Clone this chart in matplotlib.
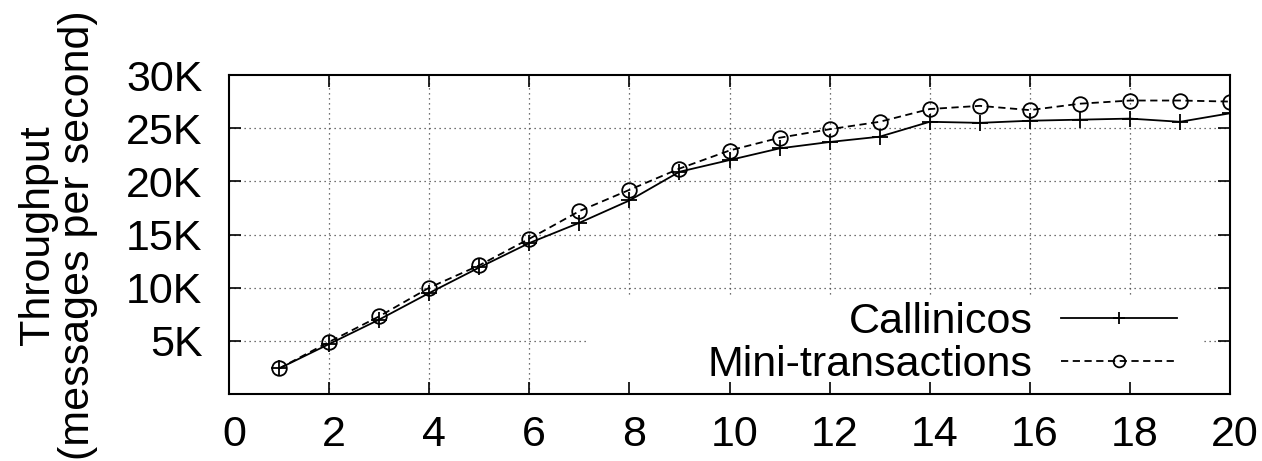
"""
Throughput vs. number of clients: Callinicos vs Mini-transactions.
Output: out.png
"""
import matplotlib
matplotlib.use("Agg")
import matplotlib.pyplot as plt
import matplotlib.patches as mpatches
import matplotlib.transforms as mtransforms
from matplotlib.ticker import FuncFormatter

# ── Data ──────────────────────────────────────────────────────────────────────

clients = [1, 2, 3, 4, 5, 6, 7, 8, 9, 10, 11, 12, 13, 14, 15, 16, 17, 18, 19, 20]
callinicos = [2.4, 4.7, 7.0, 9.5, 11.9, 14.2, 16.1, 18.2, 20.9, 22.0,
              23.1, 23.7, 24.2, 25.6, 25.5, 25.7, 25.8, 25.9, 25.6, 26.4]
mini_tx = [2.4, 4.9, 7.3, 10.0, 12.1, 14.6, 17.2, 19.2, 21.2, 22.9,
           24.1, 24.9, 25.6, 26.8, 27.1, 26.7, 27.3, 27.6, 27.6, 27.5]

x_ticks = list(range(0, 21, 2))
y_ticks = [5, 10, 15, 20, 25, 30]

FONT = 31

plt.rcParams["font.family"] = ["Liberation Sans", "DejaVu Sans"]

fig = plt.figure(figsize=(12.62, 4.61), dpi=100)
ax = fig.add_axes([0.18146, 0.1453, 0.7932, 0.692])

# grid drawn by hand so the key box can hide it but not the ticks
for xv in x_ticks[1:-1]:
    ax.axvline(xv, color="#444444", lw=0.9, ls=(0, (1, 3)), zorder=0.5)
for yv in y_ticks[:-1]:
    ax.axhline(yv, color="#444444", lw=0.9, ls=(0, (1, 3)), zorder=0.5)

# white key area (gnuplot style, no border)
ax.add_patch(mpatches.Rectangle((0.3586, 0.0), 0.6144, 0.307,
                                transform=ax.transAxes, facecolor="white",
                                edgecolor="none", zorder=1))

ax.plot(clients, callinicos, color="black", lw=1.3, marker="+",
        markersize=11, markeredgewidth=1.3, label="Callinicos", zorder=3)
ax.plot(clients, mini_tx, color="black", lw=1.3, ls=(0, (4, 2.5)),
        marker="o", markersize=10.5, markerfacecolor="none",
        markeredgewidth=1.3, label="Mini-transactions", zorder=3)

ax.set_xlim(0, 20)
ax.set_ylim(0, 30)
ax.set_xticks(x_ticks)
ax.set_yticks(y_ticks)
ax.yaxis.set_major_formatter(FuncFormatter(lambda v, p: f"{int(v)}K"))

ax.tick_params(direction="in", length=8.5, width=1.2, labelsize=FONT,
               top=True, right=True)
ax.tick_params(axis="x", pad=15)
ax.tick_params(axis="y", pad=19)
for sp in ax.spines.values():
    sp.set_linewidth(1.5)

# gnuplot puts the x labels a few pixels right of the ticks
shift = mtransforms.ScaledTranslation(0.05, 0, fig.dpi_scale_trans)
for lbl in ax.get_xticklabels():
    lbl.set_transform(lbl.get_transform() + shift)

fig.text(0.046, 0.49, "Throughput\n(messages per second)",
         rotation=90, ha="center", va="center", multialignment="center",
         fontsize=FONT, linespacing=1.0)

leg = ax.legend(loc="lower right", bbox_to_anchor=(0.947, 0.028),
                borderaxespad=0, fontsize=FONT, markerfirst=False,
                numpoints=1, handlelength=2.7, handletextpad=0.65,
                labelspacing=0.07, borderpad=0.0, frameon=False,
                markerscale=0.8)
leg.set_zorder(2)

fig.savefig("out.png", dpi=100)
